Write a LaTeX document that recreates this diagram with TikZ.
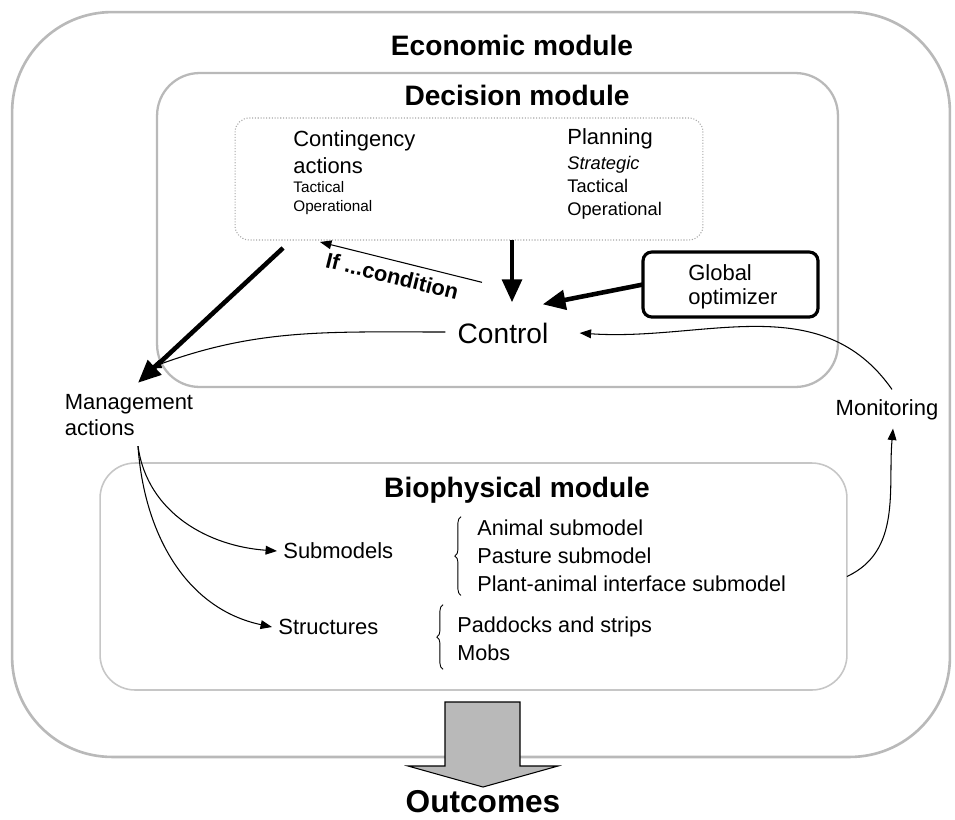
\documentclass[tikz,border=0pt]{standalone}
\usepackage{fontspec}
\setmainfont{Liberation Sans}
\usetikzlibrary{arrows.meta}
\usetikzlibrary{positioning}
\usetikzlibrary{calc}
\usetikzlibrary{decorations.pathreplacing}
\tikzstyle{module}=[
        draw=gray!55,
        line width=1.5pt,
        outer sep=0pt,
        inner sep=0pt
]
\tikzstyle{subbox}=[draw=gray!70,densely dotted,line width=0.6pt,rounded corners=8pt,outer sep=0pt]
\tikzstyle{optbox}=[draw,line width=1.8pt,rounded corners=5pt,outer sep=0pt,inner sep=0pt]
\tikzstyle{title}=[font=\fontsize{16}{19}\selectfont\bfseries,inner sep=0pt]
\tikzstyle{txt}=[font=\fontsize{12.5}{15}\selectfont,align=left,inner sep=0pt]
\tikzstyle{midtxt}=[font=\fontsize{10.4}{13}\selectfont,align=left,inner sep=0pt]
\tikzstyle{smalltxt}=[font=\fontsize{8.7}{10.8}\selectfont,align=left,inner sep=0pt]
\tikzstyle{heavyflow}=[-{Triangle[length=13pt,width=11pt]},line width=2.6pt]
\tikzstyle{flow}=[-{Triangle[length=6.5pt,width=5pt]},line width=0.6pt]
\tikzstyle{accolade}=[decorate,decoration={brace,amplitude=3.5pt},line width=0.5pt]

\begin{document}
\begin{tikzpicture}[x=0.02cm,y=-0.02cm]
\useasboundingbox (0,0) rectangle (955,819);
\node[module,rounded corners=2cm,minimum width=18.76cm,minimum height=14.9cm] (econ) at (481,384.5) {};
\node[module,line width=1.3pt,rounded corners=0.85cm,minimum width=13.62cm,minimum height=6.28cm] (decis) at (497.5,230) {};
\node[subbox,minimum width=9.36cm,minimum height=2.44cm] (actbox) at (469,179) {};
\node[module,draw=gray!45,line width=0.9pt,rounded corners=0.7cm,minimum width=14.94cm,minimum height=4.54cm] (bio) at (473.5,576.5) {};
\node[optbox,minimum width=3.5cm,minimum height=1.3cm] (glob) at (730.5,284.5) {};

\node[title] (econtitle) at (512,45) {Economic module};
\node[title] (decistitle) at (517,95) {Decision module};
\node[title] (biotitle) at (517,490) {Biophysical module};
\node[title,font=\fontsize{18}{21}\selectfont\bfseries] (outc) at (483,802) {Outcomes};

\node[txt,anchor=west] (cont) at (293,152) {Contingency\\actions};
\node[smalltxt,anchor=west] (contlev) at (293,198) {Tactical\\Operational};
\node[txt,anchor=west] (plan) at (567,139) {Planning};
\node[midtxt,anchor=west] (planlev) at (567,188) {\textit{Strategic}\\Tactical\\Operational};
\node[txt,anchor=west,font=\fontsize{12.5}{13.5}\selectfont] (globtxt) at (688,287) {Global\\optimizer};

\node[txt,font=\fontsize{16}{19}\selectfont] (ctrl) at (503,333) {Control};
\node[txt] (mgmt) at (129,415) {Management\\actions};
\node[txt] (mon) at (887,410) {Monitoring};
\node[txt,anchor=west] (sub) at (283,551) {Submodels};
\node[txt,anchor=west] (struct) at (278,627) {Structures};
\node[txt,font=\fontsize{12.3}{16}\selectfont,anchor=west] (sublist) at (477,556) {Animal submodel\\Pasture submodel\\Plant-animal interface submodel};
\node[txt,font=\fontsize{12.3}{16}\selectfont,anchor=west] (structlist) at (457,639) {Paddocks and strips\\Mobs};

\draw[accolade] ($(sublist.south west)+(-16,3)$) -- ($(sublist.north west)+(-16,-3)$);
\draw[accolade] ($(structlist.south west)+(-14,8)$) -- ($(structlist.north west)+(-14,-12)$);

%arrows
\draw[heavyflow] ($(actbox.south west)+(48,8)$) -- ($(mgmt.north)+(9,-11)$);
\draw[heavyflow] ($(actbox.south)+(43,0)$) -- ($(ctrl.north)+(9,-20)$);
\draw[heavyflow] (glob.west) -- ($(ctrl.north east)+(-6,-18)$);
\draw[{Triangle[length=6.5pt,width=5pt]}-,line width=0.6pt] ($(actbox.south)+(-149,2)$) -- ($(ctrl.north)+(-21,-40)$)
        node[pos=0.47,sloped,below=4pt,font=\fontsize{12.4}{15}\selectfont\bfseries,inner sep=0pt] (cond) {If ...condition};
\draw[flow] ($(ctrl.west)+(-12,-1)$) to[out=180,in=20] ($(mgmt.north)+(21,-26)$);
\draw[flow] ($(mon.north)+(5,-10)$) to[out=125,in=-4] ($(ctrl.east)+(31,0)$);
\draw[flow] (bio.east) to[out=25,in=-95] ($(mon.south)+(6,8)$);
\draw[flow] ($(mgmt.south)+(9,10)$) to[out=-82,in=176] ($(sub.west)+(-6,0)$);
\draw[flow] ($(mgmt.south)+(9,10)$) to[out=-86,in=168] ($(struct.west)+(-6,0)$);

\draw[fill=gray!55,line width=0.6pt] (445,702) -- (520,702) -- (520,766) -- (558,766) -- (483,787) -- (408,766) -- (445,766) -- cycle;
\end{tikzpicture}
\end{document}
